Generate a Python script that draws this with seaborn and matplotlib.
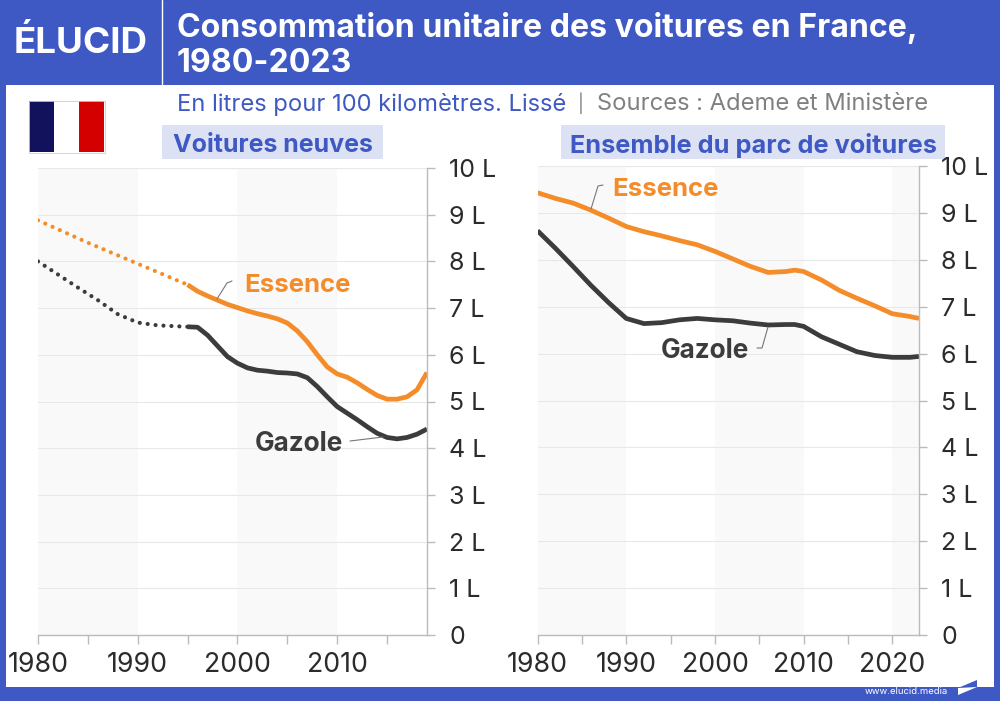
import matplotlib
matplotlib.use("Agg")
import matplotlib.pyplot as plt
from matplotlib.patches import Rectangle, Polygon
import seaborn as sns

sns.set_style("white")
plt.rcParams['font.family'] = ['Inter', 'DejaVu Sans']

BLUE = "#3f59c4"
ORANGE = "#f48c2a"
DARK = "#3c3c3c"

# voitures neuves
new_ess_dot_years = [1980, 1985, 1990, 1995]
new_ess_dot = [8.88, 8.40, 7.95, 7.50]
new_gaz_dot_years = [1980, 1982, 1984, 1986, 1988, 1990, 1992, 1995]
new_gaz_dot = [8.0, 7.72, 7.44, 7.17, 6.87, 6.69, 6.63, 6.60]
new_years = list(range(1995, 2020))
new_ess = [7.50, 7.36, 7.26, 7.17, 7.08, 7.01, 6.94, 6.88, 6.83, 6.77, 6.68, 6.51, 6.28,
           6.0, 5.74, 5.59, 5.52, 5.40, 5.26, 5.13, 5.05, 5.05, 5.10, 5.25, 5.62]
new_gaz = [6.60, 6.59, 6.42, 6.19, 5.96, 5.82, 5.72, 5.67, 5.65, 5.62, 5.61, 5.59, 5.51,
           5.32, 5.10, 4.89, 4.75, 4.61, 4.46, 4.32, 4.23, 4.20, 4.23, 4.30, 4.41]

# ensemble du parc
fleet_years = [1980, 1982, 1984, 1986, 1988, 1990, 1992, 1994, 1996, 1998, 2000,
               2002, 2004, 2006, 2008, 2009, 2010, 2012, 2014, 2016, 2018, 2020, 2022, 2023]
fleet_ess = [9.43, 9.31, 9.21, 9.06, 8.89, 8.71, 8.60, 8.51, 8.41, 8.32, 8.18,
             8.02, 7.86, 7.73, 7.75, 7.78, 7.75, 7.57, 7.35, 7.18, 7.02, 6.85, 6.79, 6.75]
fleet_gaz = [8.62, 8.25, 7.86, 7.46, 7.09, 6.75, 6.64, 6.66, 6.72, 6.75, 6.72,
             6.70, 6.65, 6.61, 6.62, 6.62, 6.58, 6.36, 6.20, 6.04, 5.96, 5.92, 5.92, 5.94]

y_ticks = [0, 1, 2, 3, 4, 5, 6, 7, 8, 9, 10]
y_labels = ["0", "1 L", "2 L", "3 L", "4 L", "5 L", "6 L", "7 L", "8 L", "9 L", "10 L"]

W, H = 1000, 701
fig = plt.figure(figsize=(W / 100, H / 100), dpi=100, facecolor=BLUE)


def px_axes(x0, y_top, x1, y_bot, **kw):
    return fig.add_axes([x0 / W, 1 - y_bot / H, (x1 - x0) / W, (y_bot - y_top) / H], **kw)


def overlay(zorder):
    a = px_axes(0, 0, W, H)
    a.set_xlim(0, W)
    a.set_ylim(H, 0)
    a.axis("off")
    a.set_zorder(zorder)
    return a


# fond : bandeau bleu, panneau blanc
bg = overlay(-1)
bg.add_patch(Rectangle((6, 85), 988, 602, color="white", lw=0))
bg.plot([162, 162], [0, 84], color="white", lw=1)
bg.text(14, 43, "ÉLUCID", color="white", fontsize=26.5, fontweight="bold", va="center")
bg.text(177, 28, "Consommation unitaire des voitures en France,", color="white",
        fontsize=23.1, fontweight="bold", va="center")
bg.text(177, 63, "1980-2023", color="white", fontsize=23.1, fontweight="bold", va="center")
bg.text(177, 104, "En litres pour 100 kilomètres. Lissé", color=BLUE, fontsize=17.1, va="center")
bg.text(578, 103, "|", color="#808080", fontsize=13, va="center")
bg.text(597, 104, "Sources : Ademe et Ministère", color="#808080", fontsize=17.1, va="center")
bg.add_patch(Rectangle((29, 101), 25, 51, color="#12125c", lw=0))
bg.add_patch(Rectangle((79, 101), 25, 51, color="#d40000", lw=0))
bg.add_patch(Rectangle((28.5, 100.5), 76, 52, fill=False, ec="#cccccc", lw=0.6))
bg.add_patch(Rectangle((162, 125), 221, 34, color="#dde1f4", lw=0))
bg.add_patch(Rectangle((561, 125), 384, 34, color="#dde1f4", lw=0))
bg.text(173, 146, "Voitures neuves", color=BLUE, fontsize=18, fontweight="bold", va="center")
bg.text(570, 146, "Ensemble du parc de voitures", color=BLUE, fontsize=18.2, fontweight="bold", va="center")
bg.text(865, 692, "www.elucid.media", color="white", fontsize=6.8, va="center")
bg.add_patch(Polygon([[958, 688], [977, 680], [977, 687]], color=BLUE, lw=0))
bg.add_patch(Polygon([[958, 688], [977, 687], [958, 695]], color="white", lw=0))


def style_axes(ax, x_max, majors, minors):
    ax.set_xlim(1980, x_max)
    ax.set_ylim(0, 10)
    ax.patch.set_alpha(0)
    for start in range(1980, x_max, 20):
        ax.axvspan(start, min(start + 10, x_max), color="#f9f9f9", lw=0, zorder=0)
    ax.grid(axis="y", color="#e8e8e8", lw=0.8, zorder=1)
    ax.set_axisbelow(True)
    for side in ["top", "left"]:
        ax.spines[side].set_visible(False)
    for side in ["right", "bottom"]:
        ax.spines[side].set_color("#bbbbbb")
        ax.spines[side].set_linewidth(1)
    ax.yaxis.tick_right()
    ax.set_yticks(y_ticks, y_labels)
    ax.set_xticks(majors)
    ax.set_xticks(minors, minor=True)
    ax.tick_params(axis="y", length=6, width=1, color="#bbbbbb", labelsize=18, labelcolor="#2b2b2b", pad=10)
    ax.tick_params(axis="x", which="both", length=6.5, width=1, color="#bbbbbb", bottom=True)
    ax.tick_params(axis="x", labelsize=19.2, labelcolor="#2b2b2b", pad=6)


ax1 = px_axes(38, 168, 427, 635)
ax2 = px_axes(537.5, 166, 919, 635)
style_axes(ax1, 2019, [1980, 1990, 2000, 2010], [1985, 1995, 2005, 2015])
style_axes(ax2, 2023, [1980, 1990, 2000, 2010, 2020], [1985, 1995, 2005, 2015])

solid = dict(lw=3.4, solid_capstyle="butt", solid_joinstyle="round", legend=False, errorbar=None, estimator=None)
dots = dict(lw=3.0, linestyle=(0, (0.01, 1.9)), dash_capstyle="round", legend=False, errorbar=None, estimator=None)

sns.lineplot(x=new_ess_dot_years, y=new_ess_dot, color=ORANGE, ax=ax1, **dots)
sns.lineplot(x=new_gaz_dot_years, y=new_gaz_dot, color=DARK, ax=ax1, **dots)
sns.lineplot(x=new_years, y=new_ess, color=ORANGE, ax=ax1, **solid)
sns.lineplot(x=new_years, y=new_gaz, color=DARK, ax=ax1, **solid)
sns.lineplot(x=fleet_years, y=fleet_ess, color=ORANGE, ax=ax2, **solid)
sns.lineplot(x=fleet_years, y=fleet_gaz, color=DARK, ax=ax2, **solid)
for ax in (ax1, ax2):
    ax.set_xlabel("")
    ax.set_ylabel("")

# labels et traits de rappel, positions en pixels
lab = overlay(5)
lab.text(244, 285, "Essence", color=ORANGE, fontsize=18.5, fontweight="bold", va="center")
lab.text(255, 444, "Gazole", color=DARK, fontsize=18.8, fontweight="bold", va="center")
lab.text(612, 189, "Essence", color=ORANGE, fontsize=18.5, fontweight="bold", va="center")
lab.text(661, 351, "Gazole", color=DARK, fontsize=18.8, fontweight="bold", va="center")
lab.plot([217, 227, 232], [299, 283, 281], color="#777777", lw=0.8)
lab.plot([350, 383], [441, 437], color="#777777", lw=0.8)
lab.plot([591, 598, 603], [209, 186, 185], color="#777777", lw=0.8)
lab.plot([757, 762, 768], [348, 348, 327], color="#777777", lw=0.8)

fig.savefig("out.png", dpi=100, facecolor=BLUE)
